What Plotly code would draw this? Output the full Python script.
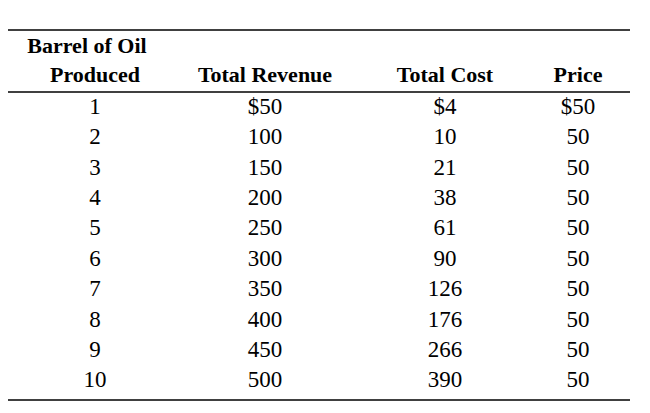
import plotly.graph_objects as go

barrels = [1, 2, 3, 4, 5, 6, 7, 8, 9, 10]
total_revenue = ["$50", "100", "150", "200", "250", "300", "350", "400", "450", "500"]
total_cost = ["$4", "10", "21", "38", "61", "90", "126", "176", "266", "390"]
price = ["$50", "50", "50", "50", "50", "50", "50", "50", "50", "50"]
headers = ["Produced", "Total Revenue", "Total Cost", "Price"]

# pixel layout of the picture (x across, y down); page adds ~8px offset
off = 8
col_x = [95 - off, 265 - off, 445 - off, 578 - off]
row_y0, row_step = 108 - off, 30.4
font = "Liberation Serif, Times New Roman, serif"

fig = go.Figure()
rows_y = [row_y0 + i * row_step for i in range(len(barrels))]
for cx, vals in zip(col_x, [[str(b) for b in barrels], total_revenue, total_cost, price]):
    fig.add_trace(go.Scatter(
        x=[cx] * len(vals), y=rows_y, text=vals, mode="text",
        textfont=dict(family=font, size=23, color="black"),
        hoverinfo="skip",
    ))

fig.add_trace(go.Scatter(
    x=col_x, y=[76 - off] * 4, text=[f"<b>{h}</b>" for h in headers], mode="text",
    textfont=dict(family=font, size=22, color="black"), hoverinfo="skip",
))
fig.add_trace(go.Scatter(
    x=[87 - off], y=[47 - off], text=["<b>Barrel of Oil</b>"], mode="text",
    textfont=dict(family=font, size=22, color="black"), hoverinfo="skip",
))

fig.add_annotation(x=5 - off, y=14 - off, text="<b>Table: Barrels of Oil</b>", showarrow=False,
                   xanchor="left", yanchor="middle",
                   font=dict(family=font, size=23, color="black"))

for yl in [30, 92, 400]:
    fig.add_shape(type="line", x0=5 - off, x1=630 - off, y0=yl - off, y1=yl - off,
                  line=dict(color="black", width=1.3))

fig.update_xaxes(range=[0, 650], visible=False, fixedrange=True)
fig.update_yaxes(range=[413, 0], visible=False, fixedrange=True)
fig.update_layout(
    width=650, height=413, margin=dict(l=0, r=0, t=0, b=0),
    showlegend=False, plot_bgcolor="white", paper_bgcolor="white",
)

fig.write_html("out.html")
